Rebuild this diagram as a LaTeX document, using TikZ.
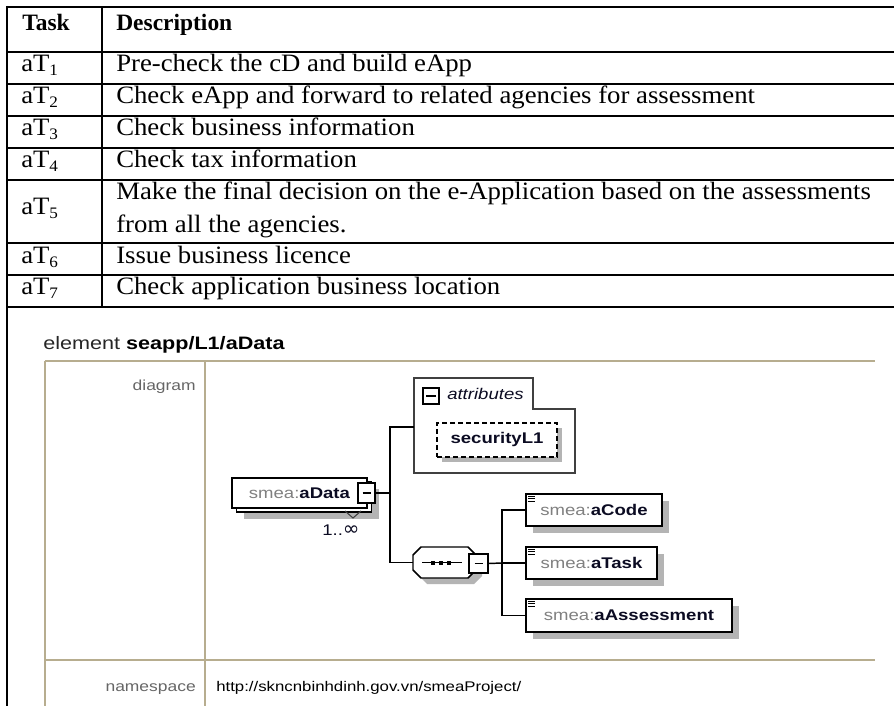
\documentclass[tikz,border=0pt]{standalone}
\usepackage{fontspec}
\setmainfont{Liberation Serif}
\newfontfamily\bodyserif[FakeStretch=1.07]{Liberation Serif}
\newfontfamily\xsans[FakeStretch=1.2]{Liberation Sans}
\newfontfamily\symsans{DejaVu Sans}
\usetikzlibrary{shadows}

\definecolor{framebeige}{HTML}{B7AD8F}
\definecolor{shadowgray}{HTML}{B4B4B4}
\definecolor{nsgray}{HTML}{808080}
\definecolor{lblgray}{HTML}{666666}
\definecolor{namedark}{HTML}{0B0B22}
\definecolor{attrline}{HTML}{404040}

% lowered small digit used in the task identifiers
\newcommand\tasksub[1]{\raisebox{-3pt}{\fontsize{12pt}{12pt}\selectfont #1}}
\newcommand\smeaname[1]{\textcolor{nsgray}{smea:}\textcolor{namedark}{\textbf{#1}}}

\begin{document}
\begin{tikzpicture}[x=0.75pt,y=-0.75pt,
  tline/.style={line width=1.5pt,black},
  frm/.style={line width=1.5pt,framebeige},
  hd/.style={inner sep=0pt,font=\fontsize{17.6pt}{20pt}\selectfont\bfseries},
  cell/.style={inner sep=0pt,font=\bodyserif\fontsize{18.75pt}{22pt}\selectfont},
  dsans/.style={inner sep=0pt,font=\xsans\fontsize{11.6pt}{14pt}\selectfont},
  lbl/.style={inner sep=0pt,text=lblgray,font=\xsans\fontsize{10.9pt}{13pt}\selectfont},
  conn/.style={line width=1.1pt,black},
  ebox/.style={draw,line width=1.1pt,fill=white,inner sep=0pt,
    general shadow={fill=shadowgray,shadow xshift=5.25pt,shadow yshift=-5.25pt},
    font=\xsans\fontsize{11.6pt}{14pt}\selectfont},
  minusbox/.style={draw,line width=1.3pt,fill=white,inner sep=0pt},
]
\useasboundingbox (0,0) rectangle (894,706);
\fill[white] (0,0) rectangle (894,706);

% ---- task table ----
\foreach \yy in {7,52,84,116,148,180,243,275,307}
  \draw[tline] (6,\yy) -- (894,\yy);
\draw[tline] (7,6) -- (7,706);
\draw[tline] (102,7) -- (102,307);

\node[hd,anchor=base west] (hTask) at (22,31) {Task};
\node[hd,anchor=base west] (hDesc) at (116,31) {Description};

\node[cell,anchor=base west] (t1) at (21,72) {aT\tasksub{1}};
\node[cell,anchor=base west] (d1) at (116,72) {Pre-check the cD and build eApp};
\node[cell,anchor=base west] (t2) at (21,104) {aT\tasksub{2}};
\node[cell,anchor=base west] (d2) at (116,104) {Check eApp and forward to related agencies for assessment};
\node[cell,anchor=base west] (t3) at (21,136) {aT\tasksub{3}};
\node[cell,anchor=base west] (d3) at (116,136) {Check business information};
\node[cell,anchor=base west] (t4) at (21,168) {aT\tasksub{4}};
\node[cell,anchor=base west] (d4) at (116,168) {Check tax information};
\node[cell,anchor=base west] (t5) at (21,215) {aT\tasksub{5}};
\node[cell,anchor=base west] (d5a) at (116,200) {Make the final decision on the e-Application based on the assessments};
\node[cell,anchor=base west] (d5b) at (116,233) {from all the agencies.};
\node[cell,anchor=base west] (t6) at (21,264) {aT\tasksub{6}};
\node[cell,anchor=base west] (d6) at (116,264) {Issue business licence};
\node[cell,anchor=base west] (t7) at (21,295) {aT\tasksub{7}};
\node[cell,anchor=base west] (d7) at (116,295) {Check application business location};

% ---- schema documentation block ----
\node[inner sep=0pt,anchor=base west,font=\xsans\fontsize{13.5pt}{16pt}\selectfont]
  (title) at (43,350) {\textcolor{black!85}{element} \textbf{seapp/L1/aData}};

\draw[frm] (45,361) -- (875,361);
\draw[frm] (45,361) -- (45,706);
\draw[frm] (205,361) -- (205,706);
\draw[frm] (45,660) -- (875,660);

\node[lbl,anchor=base east] (ldiag) at (196,391) {diagram};
\node[lbl,anchor=base east] (lns) at (196,691) {namespace};
\node[inner sep=0pt,anchor=base west,font=\xsans\fontsize{10.5pt}{13pt}\selectfont]
  (uri) at (216,691) {http://skncnbinhdinh.gov.vn/smeaProject/};

% attributes group
\draw[line width=1pt,attrline,fill=white]
  (414,378) -- (533,378) -- (533,409) -- (575,409) -- (575,473) -- (414,473) -- cycle;
\draw[line width=1.3pt] (423,388) rectangle (439,404);
\draw[line width=1pt] (426,396) -- (436,396);
\node[inner sep=0pt,anchor=base west,text=namedark,font=\xsans\fontsize{11.6pt}{14pt}\selectfont\itshape]
  (attrlbl) at (447,400) {attributes};
\node[draw,dashed,dash pattern=on 3.75pt off 2.25pt,line width=0.9pt,fill=white,inner sep=0pt,
  minimum width=90pt,minimum height=25.5pt,
  general shadow={fill=shadowgray,shadow xshift=3.75pt,shadow yshift=-3.75pt},
  font=\xsans\fontsize{11.6pt}{14pt}\selectfont]
  (sec) at (497,440) {\textcolor{namedark}{\textbf{securityL1}}};
\coordinate (attrin) at (414,427);

% repeated element aData
\node[ebox,minimum width=101.25pt,minimum height=22.5pt] (adback) at (304,497) {};
\node[draw,line width=1.1pt,fill=white,inner sep=0pt,minimum width=101.25pt,minimum height=22.5pt,
  font=\xsans\fontsize{11.6pt}{14pt}\selectfont] (adata) at (299.5,493) {\smeaname{aData}\hspace{12pt}};
\draw[line width=0.8pt,black!75] (345,511) -- (353,518) -- (361,511);
\node[minusbox,minimum width=12.75pt,minimum height=15pt] (adm) at (366.5,493) {};
\draw[line width=1pt] (adm.center) ++(-4,0) -- ++(8,0);
\node[dsans,text=namedark,anchor=base] (occ) at (341,536) {1..{\symsans\fontsize{15pt}{15pt}\selectfont ∞}};

% sequence compositor
\draw[conn,fill=white,general shadow={fill=shadowgray,shadow xshift=4.5pt,shadow yshift=-4.5pt}]
  (421,547) -- (468,547) -- (476,555) -- (476,570) -- (468,578) -- (421,578)
  -- (413,570) -- (413,555) -- cycle;
\draw[line width=1pt] (422,562.5) -- (462,562.5);
\foreach \xx in {431,439,447}
  \fill (\xx,560.5) rectangle ++(4,4);
\node[minusbox,minimum width=14.25pt,minimum height=14.25pt] (sqm) at (478.5,563.5) {};
\draw[line width=1pt] (sqm.center) ++(-4,0) -- ++(8,0);
\coordinate (seqin) at (413,562.5);

% child elements
\node[ebox,minimum width=102pt,minimum height=24pt] (acode) at (594,510) {\smeaname{aCode}};
\node[ebox,minimum width=98.25pt,minimum height=24pt] (atask) at (591.5,563) {\smeaname{aTask}};
\node[ebox,minimum width=154.5pt,minimum height=24.75pt] (aassess) at (629,615.5) {\smeaname{aAssessment}};
\foreach \nn in {acode,atask,aassess}
  \draw[line width=0.6pt,shift={(\nn.north west)}] (3,3) -- (10,3) (3,5.5) -- (10,5.5) (3,8) -- (10,8);

% connectors
\coordinate (trunk) at (390,493);
\coordinate (branch) at (502,563);
\draw[conn] (adm.east) -- (trunk);
\draw[conn] (attrin) -| (trunk);
\draw[conn] (seqin) -| (trunk);
\draw[conn] (sqm.east) -- (branch);
\draw[conn] (acode.west) -| (branch);
\draw[conn] (atask.west) -- (branch);
\draw[conn] (aassess.west) -| (branch);
\end{tikzpicture}
\end{document}
